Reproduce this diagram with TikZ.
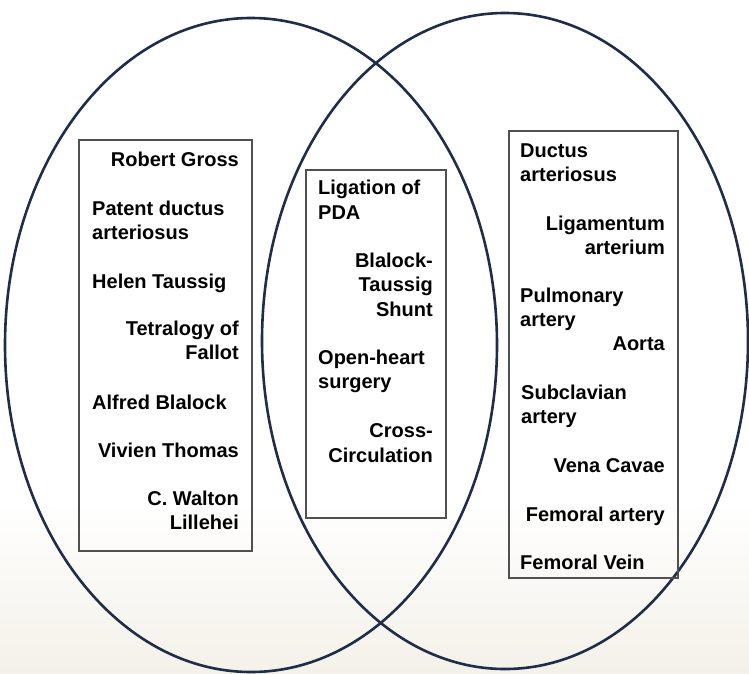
\documentclass[tikz,border=0pt]{standalone}
\usepackage{fontspec}
\setmainfont{Liberation Sans}
\usetikzlibrary{shapes.geometric,positioning}
\definecolor{ringblue}{RGB}{30,46,72}
\definecolor{boxgray}{RGB}{80,80,80}
\definecolor{paper}{RGB}{244,241,233}

\begin{document}
\begin{tikzpicture}[x=1pt,y=-1pt]
  \tikzstyle{ring}=[draw=ringblue,line width=2.6pt,ellipse,inner sep=0pt]
  \tikzstyle{listbox}=[draw=boxgray,line width=1.2pt,rectangle,inner sep=0pt]
  \tikzstyle{item}=[font=\fontsize{20}{24.5}\selectfont\bfseries,inner sep=0pt]
  \tikzstyle{lft}=[item,align=left,anchor=base west]
  \tikzstyle{rgt}=[item,align=right,anchor=base east]

  % background
  \useasboundingbox (0,0) rectangle (749,673);
  \fill[white] (0,0) rectangle (749,500);
  \shade[top color=white,bottom color=paper] (0,500) rectangle (749,673);

  % the two circles
  \node[ring,minimum width=492pt,minimum height=654pt] (people) at (251,345) {};
  \node[ring,minimum width=486pt,minimum height=656pt] (anatomy) at (505,341) {};

  % the three boxes
  \node[listbox,minimum width=173pt,minimum height=411pt] (pbox) at (165.5,345.5) {};
  \node[listbox,minimum width=140pt,minimum height=348pt] (sbox) at (376,344) {};
  \node[listbox,minimum width=169pt,minimum height=447pt] (abox) at (593.5,354.5) {};

  % people (base = last line)
  \node[rgt] (gross) at (239,166) {Robert Gross};
  \node[lft] (pda) at (92,239.5) {Patent ductus\\arteriosus};
  \node[lft] (taussig) at (92,288) {Helen Taussig};
  \node[rgt] (fallot) at (239,359.5) {Tetralogy of\\Fallot};
  \node[lft] (blalock) at (92,409) {Alfred\ Blalock};
  \node[rgt] (thomas) at (239,457) {Vivien Thomas};
  \node[rgt] (lillehei) at (239,529.5) {C. Walton\\Lillehei};

  % surgeries
  \node[lft] (ligation) at (318,219) {Ligation of\\PDA};
  \node[rgt] (shunt) at (433,316) {Blalock-\\Taussig\\Shunt};
  \node[lft] (openheart) at (318,388.5) {Open-heart\\surgery};
  \node[rgt] (crosscirc) at (433,462) {Cross-\\Circulation};

  % anatomy
  \node[lft] (ductus) at (520,181.5) {Ductus\\arteriosus};
  \node[rgt] (ligament) at (665,254.5) {Ligamentum\\arterium};
  \node[lft] (pulmonary) at (520,326.5) {Pulmonary\\artery};
  \node[rgt] (aorta) at (665,350) {Aorta};
  \node[lft] (subclavian) at (521,423.5) {Subclavian\\artery};
  \node[rgt] (venacava) at (665,472) {Vena Cavae};
  \node[rgt] (femart) at (665,521) {Femoral artery};
  \node[lft] (femvein) at (520,569) {Femoral Vein};
\end{tikzpicture}
\end{document}
